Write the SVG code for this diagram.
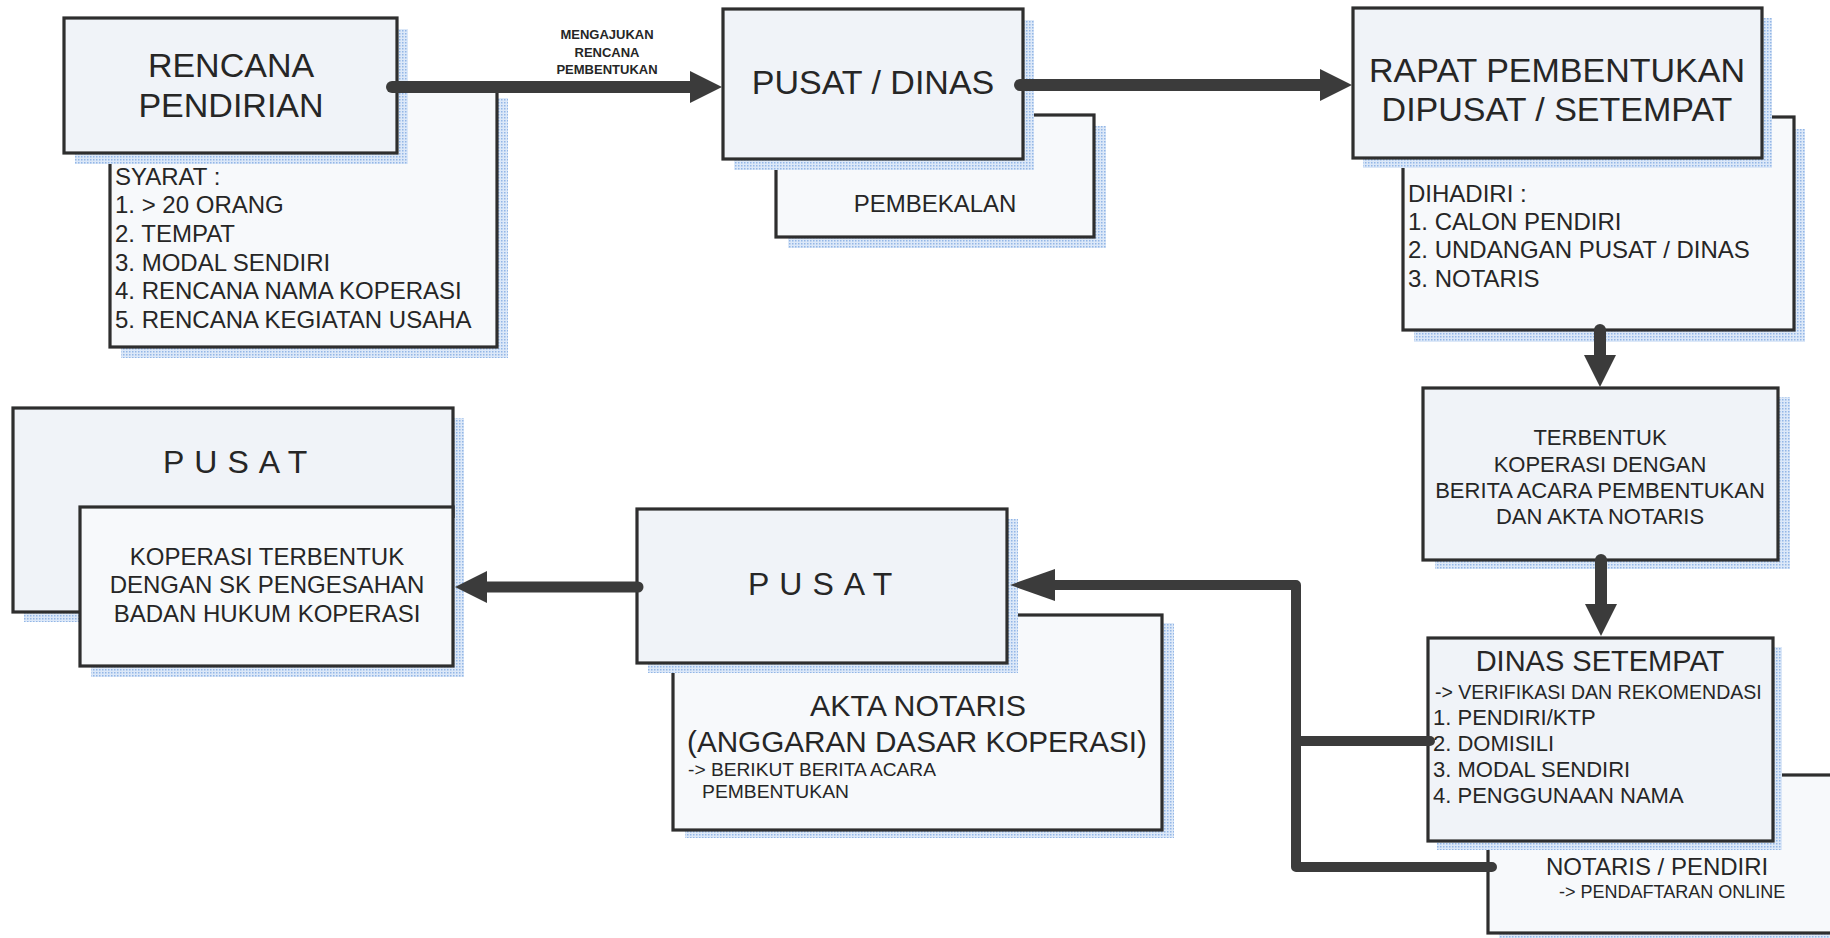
<svg xmlns="http://www.w3.org/2000/svg" width="1830" height="938" viewBox="0 0 1830 938">
<style>
.bg{fill:#ffffff}
.box{fill:#f0f3f8;stroke:#2e2e2e;stroke-width:3.2}
.sub{fill:#f7f9fb;stroke:#2e2e2e;stroke-width:3.2}
.sh{fill:url(#dots)}
text{font-family:"Liberation Sans",Arial,Helvetica,sans-serif;fill:#262626}
.t34{font-size:34px}
.t32{font-size:32px;letter-spacing:10px}
.t30{font-size:30px}
.t29{font-size:29px}
.t24{font-size:24px}
.t22{font-size:22px}
.t19{font-size:19.5px}
.t18{font-size:18px}
.lbl{font-size:13px;font-weight:bold}
.mid{text-anchor:middle}
.con{fill:none;stroke:#3b3b3b;stroke-linecap:round;stroke-linejoin:round}
</style>
<defs>
<pattern id="dots" width="3" height="3" patternUnits="userSpaceOnUse">
<rect width="3" height="3" fill="#dce8f8"/>
<rect width="1.5" height="1.5" fill="#93b6e6"/>
</pattern>
<marker id="ah" markerUnits="userSpaceOnUse" markerWidth="34" markerHeight="34" refX="1" refY="16" orient="auto" overflow="visible">
<path d="M0,0 L32,16 L0,32 z" fill="#3b3b3b"/>
</marker>
<marker id="ahl" markerUnits="userSpaceOnUse" markerWidth="48" markerHeight="34" refX="1" refY="16" orient="auto" overflow="visible">
<path d="M0,0 L45,16 L0,32 z" fill="#3b3b3b"/>
</marker>
</defs>
<rect class="bg" x="0" y="0" width="1830" height="938"/>

<g id="node-rencana">
<rect class="sh" x="121" y="98" width="387" height="260"/>
<rect class="sub" x="110" y="87" width="387" height="260"/>
<rect class="sh" x="75" y="29" width="333" height="135"/>
<rect class="box" x="64" y="18" width="333" height="135"/>
<text class="t34 mid" x="231" y="77">RENCANA</text>
<text class="t34 mid" x="231" y="117">PENDIRIAN</text>
<text class="t24" x="115" y="185">SYARAT :</text>
<text class="t24" x="115" y="213">1. &gt; 20 ORANG</text>
<text class="t24" x="115" y="242">2. TEMPAT</text>
<text class="t24" x="115" y="271">3. MODAL SENDIRI</text>
<text class="t24" x="115" y="299">4. RENCANA NAMA KOPERASI</text>
<text class="t24" x="115" y="328">5. RENCANA KEGIATAN USAHA</text>
</g>

<g id="node-pusat-dinas">
<rect class="sh" x="788" y="126" width="318" height="122"/>
<rect class="sub" x="776" y="115" width="318" height="122"/>
<rect class="sh" x="734" y="20" width="300" height="150"/>
<rect class="box" x="723" y="9" width="300" height="150"/>
<text class="t34 mid" x="873" y="94">PUSAT / DINAS</text>
<text class="t24 mid" x="935" y="212">PEMBEKALAN</text>
</g>

<g id="node-rapat">
<rect class="sh" x="1414" y="129" width="391" height="213"/>
<rect class="sub" x="1403" y="117" width="391" height="213"/>
<rect class="sh" x="1363" y="18" width="409" height="150"/>
<rect class="box" x="1353" y="8" width="409" height="150"/>
<text class="t34 mid" x="1557" y="82">RAPAT PEMBENTUKAN</text>
<text class="t34 mid" x="1557" y="121">DIPUSAT / SETEMPAT</text>
<text class="t24" x="1408" y="202">DIHADIRI :</text>
<text class="t24" x="1408" y="230">1. CALON PENDIRI</text>
<text class="t24" x="1408" y="258">2. UNDANGAN PUSAT / DINAS</text>
<text class="t24" x="1408" y="287">3. NOTARIS</text>
</g>

<g id="node-terbentuk">
<rect class="sh" x="1435" y="397" width="355" height="172"/>
<rect class="box" x="1423" y="388" width="355" height="172"/>
<text class="t22 mid" x="1600" y="445">TERBENTUK</text>
<text class="t22 mid" x="1600" y="472">KOPERASI DENGAN</text>
<text class="t22 mid" x="1600" y="498">BERITA ACARA PEMBENTUKAN</text>
<text class="t22 mid" x="1600" y="524">DAN AKTA NOTARIS</text>
</g>

<g id="node-notaris">
<rect class="sh" x="1499" y="785" width="400" height="158"/>
<rect class="sub" x="1488" y="775" width="400" height="158"/>
<text class="t24" x="1546" y="875">NOTARIS / PENDIRI</text>
<text class="t18" x="1559" y="898">-&gt; PENDAFTARAN ONLINE</text>
</g>

<g id="node-dinas-setempat">
<rect class="sh" x="1437" y="647" width="345" height="203"/>
<rect class="box" x="1428" y="638" width="345" height="203"/>
<text class="t29 mid" x="1600" y="671">DINAS SETEMPAT</text>
<text class="t19" x="1435" y="699">-&gt; VERIFIKASI DAN REKOMENDASI</text>
<text class="t22" x="1433" y="725">1. PENDIRI/KTP</text>
<text class="t22" x="1433" y="751">2. DOMISILI</text>
<text class="t22" x="1433" y="777">3. MODAL SENDIRI</text>
<text class="t22" x="1433" y="803">4. PENGGUNAAN NAMA</text>
</g>

<g id="node-pusat-akta">
<rect class="sh" x="685" y="623" width="489" height="215"/>
<rect class="sub" x="673" y="615" width="489" height="215"/>
<rect class="sh" x="648" y="519" width="370" height="154"/>
<rect class="box" x="637" y="509" width="370" height="154"/>
<text class="t32" x="748" y="595">PUSAT</text>
<text class="t30 mid" x="918" y="716" textLength="216" lengthAdjust="spacingAndGlyphs">AKTA NOTARIS</text>
<text class="t30 mid" x="917" y="752" textLength="460" lengthAdjust="spacingAndGlyphs">(ANGGARAN DASAR KOPERASI)</text>
<text class="t18" x="688" y="776" textLength="248" lengthAdjust="spacingAndGlyphs">-&gt; BERIKUT BERITA ACARA</text>
<text class="t18" x="702" y="798" textLength="147" lengthAdjust="spacingAndGlyphs">PEMBENTUKAN</text>
</g>

<g id="node-pusat-sk">
<rect class="sh" x="24" y="418" width="440" height="204"/>
<rect class="box" x="13" y="408" width="440" height="204"/>
<rect class="sh" x="91" y="518" width="373" height="159"/>
<rect class="sub" x="80" y="507" width="373" height="159"/>
<text class="t32" x="163" y="473">PUSAT</text>
<text class="t24 mid" x="267" y="565">KOPERASI TERBENTUK</text>
<text class="t24 mid" x="267" y="593">DENGAN SK PENGESAHAN</text>
<text class="t24 mid" x="267" y="622">BADAN HUKUM KOPERASI</text>
</g>

<g id="connectors">
<path class="con" stroke-width="12" d="M392,87 H691" marker-end="url(#ah)"/>
<path class="con" stroke-width="12" d="M1020,85 H1321" marker-end="url(#ah)"/>
<path class="con" stroke-width="12" d="M1600,330 V356" marker-end="url(#ah)"/>
<path class="con" stroke-width="12" d="M1601,560 V605" marker-end="url(#ah)"/>
<path class="con" stroke-width="10" d="M1430,741 H1296"/>
<path class="con" stroke-width="10" d="M1492,867 H1296 V585 H1054" marker-end="url(#ahl)"/>
<path class="con" stroke-width="11" d="M638,587 H486" marker-end="url(#ah)"/>
<text class="lbl mid" x="607" y="39">MENGAJUKAN</text>
<text class="lbl mid" x="607" y="57">RENCANA</text>
<text class="lbl mid" x="607" y="74">PEMBENTUKAN</text>
</g>
</svg>
